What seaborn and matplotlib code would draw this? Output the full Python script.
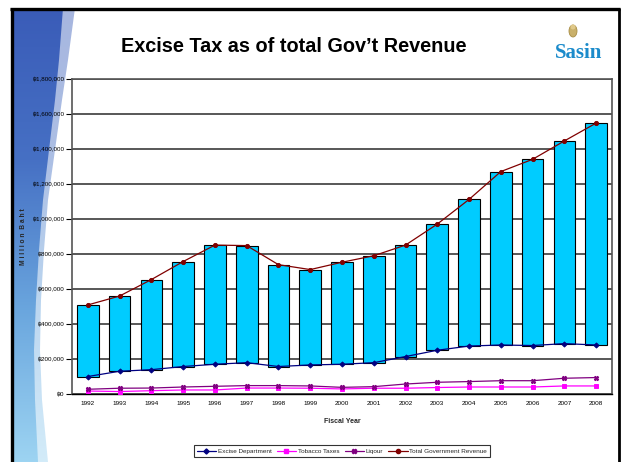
import numpy as np
import matplotlib
matplotlib.use("Agg")
import matplotlib.pyplot as plt
import seaborn as sns
from matplotlib.patches import Polygon, Ellipse
from matplotlib.lines import Line2D
from matplotlib.colors import LinearSegmentedColormap
from matplotlib.ticker import FuncFormatter, FixedLocator

# ---------------- data (million Baht) ----------------
years = [str(y) for y in range(1992, 2009)]
excise = [100000, 130000, 139000, 157000, 170000, 179000, 157000, 166000, 170000,
          179000, 214000, 250000, 274000, 280000, 277000, 288000, 280000]
tobacco = [17000, 14000, 19000, 23000, 23000, 34000, 34000, 33000, 29000,
           33000, 33000, 37000, 40000, 40000, 40000, 46000, 46000]
liquor = [27000, 33000, 34000, 40000, 44000, 48000, 48000, 46000, 38000,
          42000, 57000, 67000, 71000, 76000, 76000, 90000, 94000]
total = [509000, 560000, 654000, 757000, 851000, 848000, 739000, 711000, 753000,
         790000, 851000, 971000, 1112000, 1271000, 1341000, 1446000, 1548000]
series_names = ["Excise Department", "Tobacco Taxes", "Liqour", "Total Government Revenue"]
yticks = list(range(0, 1800001, 200000))

sns.set_theme(style="white")
plt.rcParams["font.family"] = ["Liberation Sans", "DejaVu Sans"]

W, H = 621, 462
fig = plt.figure(figsize=(W / 100, H / 100), dpi=100)
fig.patch.set_facecolor("white")

# ---------------- slide background ----------------
bg = fig.add_axes([0, 0, 1, 1], zorder=-10)
bg.set_xlim(0, W)
bg.set_ylim(H, 0)
bg.axis("off")
cmap = LinearSegmentedColormap.from_list("sw", ["#3a5cb8", "#4670c4", "#6aa6de", "#9dd4f2"])
grad = np.linspace(0, 1, 256).reshape(-1, 1)
outer = Polygon([(12, 8), (75, 8), (68, 60), (62, 100), (55, 150), (48, 200), (44, 250),
                 (41, 300), (40, 350), (42, 400), (48, H), (12, H)], closed=True,
                facecolor="none", edgecolor="none")
bg.add_patch(outer)
im1 = bg.imshow(grad, extent=[10, 90, H, 8], aspect="auto", cmap=cmap, alpha=0.45,
                interpolation="bilinear")
im1.set_clip_path(outer)
inner = Polygon([(12, 8), (63, 8), (59, 60), (55, 100), (49, 150), (43, 200), (39, 250),
                 (36, 300), (34, 350), (35, 400), (38, H), (12, H)], closed=True,
                facecolor="none", edgecolor="none")
bg.add_patch(inner)
im2 = bg.imshow(grad, extent=[10, 90, H, 8], aspect="auto", cmap=cmap,
                interpolation="bilinear")
im2.set_clip_path(inner)
bg.plot([11.5, 11.5], [8, H], color="black", lw=2.4, solid_capstyle="butt")
bg.plot([10.3, 620], [8.5, 8.5], color="black", lw=2.4, solid_capstyle="butt")
bg.plot([619, 619], [8, H], color="black", lw=2.0, solid_capstyle="butt")

# title and logo
fig.text(294 / W, 1 - 46 / H, "Excise Tax as of total Gov\u2019t Revenue",
         ha="center", va="center", fontsize=14.3, fontweight="bold", color="black")
bg.add_patch(Ellipse((573, 31), 8, 12, facecolor="#c9b06a", edgecolor="#a88d45", lw=0.6))
bg.add_patch(Ellipse((573, 27), 5, 5, facecolor="#e0c98a", edgecolor="none"))
fig.text(579 / W, 1 - 53 / H, "Sasin", ha="center", va="center", fontsize=15,
         fontweight="bold", color="#1b8bcb", family=["Liberation Serif", "DejaVu Serif"])

# ---------------- chart ----------------
ax = fig.add_axes([72 / W, 1 - 394 / H, 540 / W, 315 / H])
heights = [t - e for t, e in zip(total, excise)]
sns.barplot(x=years, y=heights, bottom=excise, color="#00ccff", saturation=1,
            edgecolor="black", linewidth=0.8, width=0.68, ax=ax, zorder=2)

styles = [("#000080", "D", 2.6), ("#ff00ff", "s", 2.6),
          ("#800080", "X", 3.2), ("#800000", "o", 3.0)]
for vals, (c, m, ms) in zip([excise, tobacco, liquor, total], styles):
    sns.pointplot(x=years, y=vals, color=c, marker=m, markersize=ms, linewidth=0.9,
                  errorbar=None, ax=ax, zorder=3)

ax.set_xlim(-0.5, 16.5)
ax.set_ylim(0, 1800000)
ax.yaxis.set_major_locator(FixedLocator(yticks))
ax.yaxis.set_major_formatter(FuncFormatter(lambda v, p: "\u0e3f{:,.0f}".format(v)))
ax.yaxis.grid(True, color="#4a4a4a", lw=1.3)
ax.set_axisbelow(True)
ax.set_xticks(range(len(years)))
ax.set_xticklabels(years)
ax.set_xticks(np.arange(-0.5, len(years), 1.0), minor=True)
ax.tick_params(axis="x", which="major", length=0, pad=5, labelsize=4.6, colors="black")
ax.tick_params(axis="x", which="minor", length=3, width=0.8, direction="out", color="black")
ax.tick_params(axis="y", which="major", length=4, width=0.8, direction="out",
               pad=1.5, labelsize=4.5, colors="black", left=True)
ax.set_xlabel("Fiscal Year", fontsize=5, fontweight="bold", labelpad=9)
ax.set_ylabel("M i l l i o n  B a h t", fontsize=4.8, fontweight="bold", labelpad=4)
for s in ["left", "top", "right"]:
    ax.spines[s].set_color("#555555")
    ax.spines[s].set_linewidth(1.2)
ax.spines["bottom"].set_color("black")
ax.spines["bottom"].set_linewidth(1.0)
ax.set_facecolor("white")

handles = [Line2D([0], [0], color=c, marker=m, markersize=ms, lw=0.9)
           for (c, m, ms) in styles]
leg = fig.legend(handles, series_names, loc="center", ncol=4,
                 bbox_to_anchor=(342 / W, 1 - 451 / H), fontsize=4.6, frameon=True,
                 fancybox=False, edgecolor="black", handlelength=3, handletextpad=0.3,
                 columnspacing=0.8, borderpad=0.5)
leg.get_frame().set_linewidth(0.8)

fig.savefig("out.png", dpi=100, facecolor="white")
